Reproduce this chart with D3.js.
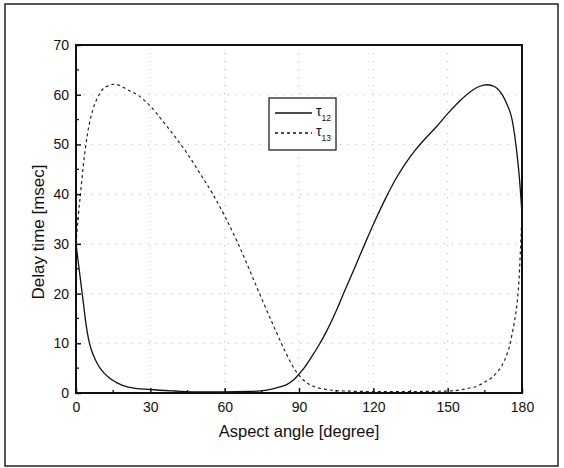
<!DOCTYPE html>
<html>
<head>
<meta charset="utf-8">
<script src="https://cdn.jsdelivr.net/npm/d3@7"></script>
<style>
  html, body { margin: 0; padding: 0; background: #fff; }
  svg { display: block; }
  text { font-family: "Liberation Sans", Arial, sans-serif; fill: #111; }
</style>
</head>
<body>
<svg id="chart" width="564" height="468"></svg>
<script>
// Aspect angle (degrees) and delay times (msec) for the two sensor pairs
const tau12Angle = [0, 1, 2, 3, 4, 5, 6, 8, 10, 13, 16, 21, 30, 40, 50, 60, 70, 77, 82, 85, 88, 90, 92, 95, 98, 101, 105, 109, 113, 117, 121, 125, 129, 133, 137, 141, 145, 150, 155, 160, 163, 166, 169, 172, 174, 176, 177, 178, 179, 180];
const tau12Delay = [30, 26, 22, 18, 14, 11, 9, 6.5, 4.8, 3.2, 2.2, 1.2, 0.7, 0.4, 0.2, 0.2, 0.3, 0.6, 1.2, 1.7, 2.7, 3.8, 5, 7.2, 9.6, 12.3, 16.5, 21.2, 25.8, 30.5, 35, 39.2, 43, 46.2, 48.9, 51.2, 53.3, 56.2, 58.8, 60.9, 61.7, 62, 61.6, 60, 58, 55, 52, 48, 43, 36];

const tau13Angle = [0, 1, 2, 3, 4.6, 6.8, 8.5, 11, 13, 15.5, 18, 20, 25, 30, 35, 40, 45, 50, 55, 60, 65, 70, 75, 80, 84, 87, 89, 91, 93, 96, 100, 108, 120, 135, 150, 155, 158, 162, 165, 168, 170, 172, 174, 175, 176, 177, 178, 178.7, 179.3, 180];
const tau13Delay = [30, 36, 41, 46, 52, 57, 59.2, 61.2, 61.8, 62.1, 61.8, 61.2, 59.9, 57.7, 54.7, 51.5, 48.1, 44.2, 40.2, 35.6, 30.5, 24.8, 18.9, 13.2, 8.8, 5.8, 4.2, 3, 2.1, 1.3, 0.8, 0.4, 0.3, 0.3, 0.4, 0.6, 0.9, 1.4, 2.2, 3.2, 4.2, 5.6, 7.9, 9.5, 11.9, 14.5, 18, 22, 28, 36];

const xTicks = [0, 30, 60, 90, 120, 150, 180];
const xMinorTicks = [15, 45, 75, 105, 135, 165];
const yTicks = [0, 10, 20, 30, 40, 50, 60, 70];
const yMinorTicks = [5, 15, 25, 35, 45, 55, 65];

const svg = d3.select("#chart");
const plotLeft = 76, plotRight = 522, plotTop = 45, plotBottom = 393;

const x = d3.scaleLinear().domain([0, 180]).range([plotLeft, plotRight]);
const y = d3.scaleLinear().domain([0, 70]).range([plotBottom, plotTop]);

// outer figure frame
svg.append("rect")
  .attr("x", 5).attr("y", 4).attr("width", 553).attr("height", 462)
  .attr("fill", "none").attr("stroke", "#222").attr("stroke-width", 1.5);

// dotted grid at the major ticks
const grid = svg.append("g").attr("stroke", "#999").attr("stroke-width", 1)
  .attr("stroke-dasharray", "1,7").attr("opacity", 0.7);
grid.selectAll(".gx").data(xTicks.slice(1, -1)).enter().append("line")
  .attr("x1", d => x(d)).attr("x2", d => x(d)).attr("y1", plotTop).attr("y2", plotBottom);
grid.selectAll(".gy").data(yTicks.slice(1, -1)).enter().append("line")
  .attr("y1", d => y(d)).attr("y2", d => y(d)).attr("x1", plotLeft).attr("x2", plotRight);

// curves
const line = d3.line().x(d => x(d[0])).y(d => y(d[1])).curve(d3.curveMonotoneX);
svg.append("path")
  .datum(d3.zip(tau12Angle, tau12Delay))
  .attr("d", line).attr("fill", "none").attr("stroke", "#111").attr("stroke-width", 1.3);
svg.append("path")
  .datum(d3.zip(tau13Angle, tau13Delay))
  .attr("d", line).attr("fill", "none").attr("stroke", "#222").attr("stroke-width", 1.2)
  .attr("stroke-dasharray", "3,3");

// axes with inward ticks
const xAxis = d3.axisBottom(x).tickValues(xTicks).tickSize(-5).tickPadding(9).tickFormat(d3.format("d"));
const yAxis = d3.axisLeft(y).tickValues(yTicks).tickSize(-5).tickPadding(7).tickFormat(d3.format("d"));

const gx = svg.append("g").attr("transform", `translate(0,${plotBottom})`).call(xAxis);
const gy = svg.append("g").attr("transform", `translate(${plotLeft},0)`).call(yAxis);
[gx, gy].forEach(g => {
  g.select(".domain").remove();
  g.selectAll(".tick line").attr("stroke", "#111").attr("stroke-width", 1.5);
  g.selectAll(".tick text").attr("font-size", 14).attr("fill", "#111")
    .attr("font-family", "Liberation Sans, Arial, sans-serif");
});

svg.append("g").selectAll("line").data(xMinorTicks).enter().append("line")
  .attr("x1", d => x(d)).attr("x2", d => x(d)).attr("y1", plotBottom).attr("y2", plotBottom - 3)
  .attr("stroke", "#111").attr("stroke-width", 1.3);
svg.append("g").selectAll("line").data(yMinorTicks).enter().append("line")
  .attr("y1", d => y(d)).attr("y2", d => y(d)).attr("x1", plotLeft).attr("x2", plotLeft + 3)
  .attr("stroke", "#111").attr("stroke-width", 1.3);

// plot frame
svg.append("rect")
  .attr("x", plotLeft).attr("y", plotTop).attr("width", plotRight - plotLeft).attr("height", plotBottom - plotTop)
  .attr("fill", "none").attr("stroke", "#111").attr("stroke-width", 2);

// axis titles
svg.append("text")
  .attr("x", (plotLeft + plotRight) / 2).attr("y", 437)
  .attr("text-anchor", "middle").attr("font-size", 16.5)
  .text("Aspect angle [degree]");
svg.append("text")
  .attr("transform", "translate(43.5,232) rotate(-90)")
  .attr("text-anchor", "middle").attr("font-size", 17)
  .text("Delay time [msec]");

// legend
const legend = svg.append("g");
legend.append("rect")
  .attr("x", 269).attr("y", 98).attr("width", 67).attr("height", 52)
  .attr("fill", "#fff").attr("stroke", "#222").attr("stroke-width", 1.3);
const entries = [
  { sub: "12", y: 113, dash: null },
  { sub: "13", y: 133, dash: "3,3" }
];
entries.forEach(e => {
  legend.append("line")
    .attr("x1", 275).attr("x2", 312).attr("y1", e.y).attr("y2", e.y)
    .attr("stroke", "#111").attr("stroke-width", 1.3)
    .attr("stroke-dasharray", e.dash);
  const t = legend.append("text")
    .attr("x", 316).attr("y", e.y + 3)
    .attr("font-family", "Liberation Serif, Times New Roman, serif")
    .attr("font-size", 14);
  t.append("tspan").text("τ");
  t.append("tspan").attr("dy", 5).attr("font-size", 8.5).text(e.sub);
});
</script>
</body>
</html>
